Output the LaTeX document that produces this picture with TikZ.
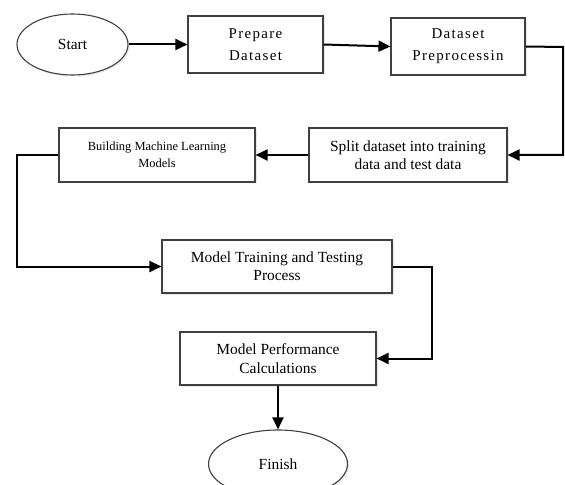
\documentclass[tikz,border=0pt]{standalone}
\usepackage{fontspec}
\setmainfont{Liberation Serif}
\usetikzlibrary{arrows.meta,shapes.geometric,shadows}
\begin{document}
\begin{tikzpicture}[x=1bp,y=-1bp,
  boxshadow/.style={drop shadow={opacity=0.18,shadow xshift=1.5bp,shadow yshift=-1.5bp}},
  stepbox/.style={draw=black!75,line width=1.1bp,fill=white,rectangle,align=center,
    inner sep=2bp,font=\fontsize{15.5}{18.5}\selectfont,boxshadow},
  topbox/.style={stepbox,font=\fontsize{15}{22}\selectfont\addfontfeature{LetterSpace=9}},
  ovalbox/.style={draw=black!75,line width=1.1bp,fill=white,ellipse,inner sep=0pt,
    font=\fontsize{15.5}{18}\selectfont,boxshadow},
  conn/.style={draw=black,line width=2bp},
  arr/.style={conn,-{Triangle[length=12bp,width=11bp]}}]
\clip (0,0) rectangle (565,485);
\useasboundingbox (0,0) rectangle (565,485);
\fill[white] (0,0) rectangle (565,485);

\node[ovalbox,minimum width=111bp,minimum height=61bp] (start) at (72.5,44.5) {Start};
\node[topbox,minimum width=135bp,minimum height=57bp] (prep) at (255.5,44.5) {Prepare\\Dataset};
\node[topbox,minimum width=134bp,minimum height=57bp] (pre) at (458,46.5) {Dataset\\Preprocessin};
\node[stepbox,minimum width=198bp,minimum height=54bp] (split) at (408,155) {Split dataset into training\\data and test data};
\node[stepbox,minimum width=196bp,minimum height=54bp,font=\fontsize{12.5}{17}\selectfont] (build) at (157,155) {Building Machine Learning\\Models};
\node[stepbox,minimum width=230bp,minimum height=53bp] (train) at (277,266.5) {Model Training and Testing\\Process};
\node[stepbox,minimum width=196bp,minimum height=53bp] (perf) at (278,358.5) {Model Performance\\Calculations};
\node[ovalbox,minimum width=139bp,minimum height=68bp] (finish) at (278,464) {Finish};

\coordinate (c1) at (563,47);
\coordinate (c2) at (17,155);
\coordinate (c3) at (432,266.5);

\draw[arr] (start) -- (prep);
\draw[arr] (prep.east) -- (pre.west);
\draw[arr] (pre.east) -- (c1) |- (split.east);
\draw[arr] (split) -- (build);
\draw[arr] (build.west) -- (c2) |- (train.west);
\draw[arr] (train.east) -- (c3) |- (perf.east);
\draw[arr] (perf) -- (finish);
\end{tikzpicture}
\end{document}
